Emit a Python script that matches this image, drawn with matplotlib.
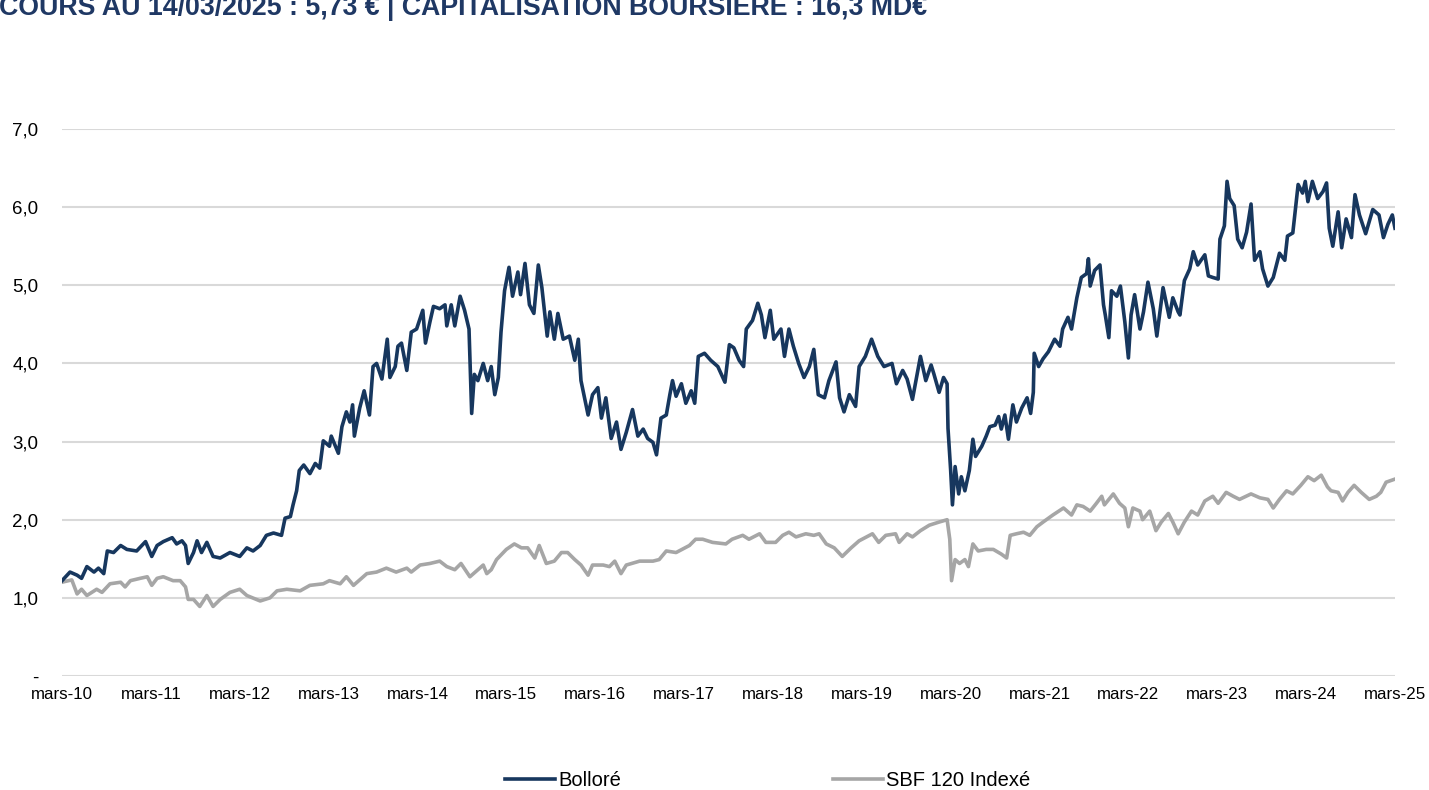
import matplotlib
matplotlib.use("Agg")
import matplotlib.pyplot as plt

# titre / axes
titre = "COURS AU 14/03/2025 : 5,73 € | CAPITALISATION BOURSIÈRE : 16,3 MD€"
mois = ['mars-10', 'mars-11', 'mars-12', 'mars-13', 'mars-14', 'mars-15', 'mars-16', 'mars-17',
        'mars-18', 'mars-19', 'mars-20', 'mars-21', 'mars-22', 'mars-23', 'mars-24', 'mars-25']
y_ticks = [0, 1, 2, 3, 4, 5, 6, 7]
y_labels = ['-', '1,0', '2,0', '3,0', '4,0', '5,0', '6,0', '7,0']

# Bollore (annees depuis mars 2010, cours en euros)
bollore_t = [0.00, 0.09, 0.17, 0.22, 0.28, 0.36, 0.41, 0.47, 0.51, 0.58, 0.66, 0.73, 0.84, 0.94,
             1.01, 1.07, 1.14, 1.24, 1.29, 1.35, 1.39, 1.42, 1.48, 1.52, 1.57, 1.63, 1.70, 1.78,
             1.89, 2.00, 2.08, 2.15, 2.23, 2.30, 2.38, 2.47, 2.51, 2.57, 2.60, 2.64, 2.67, 2.72,
             2.79, 2.85, 2.90, 2.94, 3.01, 3.03, 3.11, 3.15, 3.20, 3.24, 3.27, 3.29, 3.35, 3.40,
             3.46, 3.50, 3.54, 3.60, 3.66, 3.69, 3.75, 3.78, 3.82, 3.88, 3.93, 3.99, 4.06, 4.09,
             4.14, 4.18, 4.25, 4.31, 4.33, 4.38, 4.42, 4.48, 4.53, 4.58,
             4.61, 4.64, 4.68, 4.74, 4.79, 4.83, 4.87, 4.91, 4.94, 4.98, 5.03, 5.07, 5.13, 5.16,
             5.21, 5.26, 5.31, 5.36, 5.40, 5.46, 5.49, 5.54, 5.58, 5.64, 5.71, 5.77, 5.81, 5.84,
             5.92, 5.97, 6.03, 6.07, 6.12, 6.18, 6.24, 6.29, 6.35, 6.42, 6.48, 6.54, 6.59, 6.65,
             6.69, 6.74, 6.80, 6.84, 6.87, 6.91, 6.97, 7.02, 7.08, 7.12, 7.16, 7.23, 7.30, 7.38,
             7.46, 7.51, 7.56, 7.62, 7.67, 7.70, 7.77, 7.83, 7.87, 7.91, 7.97, 8.01, 8.09, 8.13,
             8.18, 8.23, 8.29, 8.35, 8.41, 8.46, 8.51, 8.58, 8.63, 8.71, 8.75, 8.80, 8.86, 8.93,
             8.97, 9.04, 9.11, 9.18, 9.25, 9.34, 9.39, 9.46, 9.51, 9.57, 9.66, 9.72, 9.78, 9.81,
             9.87, 9.92, 9.96, 9.97,
             10.00, 10.02, 10.05, 10.09, 10.12, 10.16, 10.21, 10.25, 10.28, 10.35, 10.40, 10.44,
             10.50, 10.54, 10.57, 10.61, 10.65, 10.70, 10.74, 10.80, 10.86, 10.90, 10.93, 10.94,
             10.99, 11.04, 11.10, 11.17, 11.23, 11.26, 11.32, 11.36, 11.42, 11.47, 11.53, 11.55,
             11.57, 11.62, 11.68, 11.72, 11.74, 11.78, 11.81, 11.87, 11.91, 11.96, 12.00, 12.03,
             12.07, 12.13, 12.17, 12.22, 12.28, 12.32, 12.39, 12.46, 12.50, 12.56, 12.58, 12.63,
             12.69, 12.73, 12.78, 12.86, 12.90, 12.95, 13.01, 13.03, 13.08, 13.11, 13.14, 13.19,
             13.23, 13.28, 13.33, 13.38, 13.42, 13.48, 13.51, 13.57, 13.63, 13.70, 13.76, 13.79,
             13.85, 13.91, 13.96, 13.99, 14.02, 14.07, 14.13, 14.19, 14.23, 14.26, 14.30, 14.36,
             14.40, 14.45, 14.51, 14.55, 14.60, 14.67, 14.75, 14.82, 14.87, 14.92, 14.97, 15.00]
bollore = [1.22, 1.33, 1.29, 1.25, 1.40, 1.33, 1.38, 1.31, 1.60, 1.58, 1.67, 1.62, 1.60, 1.72,
           1.53, 1.67, 1.72, 1.77, 1.69, 1.73, 1.67, 1.44, 1.58, 1.73, 1.58, 1.71, 1.53, 1.51,
           1.58, 1.53, 1.64, 1.60, 1.67, 1.80, 1.83, 1.80, 2.02, 2.04, 2.19, 2.37, 2.63, 2.70,
           2.59, 2.72, 2.66, 3.01, 2.94, 3.07, 2.85, 3.19, 3.38, 3.25, 3.47, 3.07, 3.43, 3.65,
           3.34, 3.96, 4.00, 3.80, 4.31, 3.82, 3.96, 4.22, 4.26, 3.91, 4.40, 4.44, 4.68, 4.26,
           4.53, 4.73, 4.70, 4.75, 4.48, 4.75, 4.48, 4.86, 4.68, 4.44,
           3.36, 3.86, 3.78, 4.00, 3.78, 3.96, 3.60, 3.82, 4.40, 4.93, 5.23, 4.86, 5.17, 4.88,
           5.28, 4.75, 4.64, 5.26, 4.97, 4.35, 4.66, 4.31, 4.64, 4.31, 4.35, 4.04, 4.31, 3.78,
           3.34, 3.60, 3.69, 3.30, 3.56, 3.04, 3.25, 2.90, 3.12, 3.41, 3.07, 3.16, 3.04, 2.99,
           2.83, 3.30, 3.34, 3.60, 3.78, 3.58, 3.74, 3.49, 3.65, 3.49, 4.09, 4.13, 4.04, 3.96,
           3.76, 4.24, 4.20, 4.04, 3.96, 4.44, 4.55, 4.77, 4.62, 4.33, 4.68, 4.31, 4.44, 4.09,
           4.44, 4.22, 4.00, 3.82, 3.96, 4.18, 3.60, 3.56, 3.78, 4.02, 3.56, 3.38, 3.60, 3.45,
           3.96, 4.09, 4.31, 4.09, 3.96, 4.00, 3.74, 3.91, 3.80, 3.54, 4.09, 3.78, 3.98, 3.87,
           3.63, 3.82, 3.74, 3.17,
           2.63, 2.19, 2.68, 2.33, 2.55, 2.37, 2.63, 3.03, 2.81, 2.94, 3.07, 3.19,
           3.21, 3.32, 3.16, 3.34, 3.03, 3.47, 3.25, 3.43, 3.56, 3.36, 3.63, 4.13,
           3.96, 4.06, 4.15, 4.31, 4.22, 4.44, 4.59, 4.44, 4.84, 5.10, 5.15, 5.34,
           4.99, 5.19, 5.26, 4.75, 4.62, 4.33, 4.93, 4.86, 4.99, 4.53, 4.07, 4.62,
           4.88, 4.44, 4.66, 5.04, 4.70, 4.35, 4.97, 4.59, 4.84, 4.66, 4.62, 5.06,
           5.21, 5.43, 5.26, 5.39, 5.12, 5.10, 5.08, 5.59, 5.76, 6.33, 6.11, 6.02,
           5.59, 5.48, 5.68, 6.04, 5.32, 5.43, 5.21, 4.99, 5.10, 5.41, 5.32, 5.63,
           5.67, 6.29, 6.18, 6.33, 6.07, 6.33, 6.11, 6.20, 6.31, 5.73, 5.50, 5.94,
           5.48, 5.85, 5.61, 6.16, 5.90, 5.66, 5.97, 5.90, 5.61, 5.78, 5.90, 5.73]

# SBF 120 indexe sur le cours de depart
sbf_t = [0.00, 0.11, 0.17, 0.22, 0.28, 0.39, 0.45, 0.54, 0.66, 0.71, 0.77, 0.88, 0.96, 1.01,
         1.07, 1.14, 1.25, 1.33, 1.39, 1.42, 1.48, 1.55, 1.63, 1.70, 1.78, 1.89, 2.00, 2.08,
         2.23, 2.34, 2.42, 2.53, 2.68, 2.79, 2.94, 3.01, 3.13, 3.20, 3.28, 3.43, 3.54, 3.65,
         3.76, 3.88, 3.93, 4.03, 4.14, 4.25, 4.33, 4.42, 4.49, 4.59,
         4.68, 4.74, 4.78, 4.83, 4.89, 5.00, 5.09, 5.17, 5.24, 5.32, 5.37, 5.45, 5.54, 5.62,
         5.69, 5.77, 5.84, 5.92, 5.97, 6.09, 6.16, 6.22, 6.29, 6.35, 6.50, 6.65, 6.72, 6.80,
         6.91, 7.06, 7.13, 7.21, 7.32, 7.47, 7.54, 7.66, 7.73, 7.85, 7.92, 8.03, 8.11, 8.18,
         8.26, 8.37, 8.46, 8.52, 8.60, 8.69, 8.78, 8.88, 8.97, 9.12, 9.19, 9.27, 9.38, 9.42,
         9.51, 9.57, 9.66, 9.76, 9.87,
         9.96, 9.99, 10.01, 10.05, 10.10, 10.16, 10.20, 10.25, 10.31, 10.40, 10.48, 10.57,
         10.63, 10.67, 10.74, 10.82, 10.89, 10.97, 11.04, 11.15, 11.27, 11.36, 11.42, 11.49,
         11.57, 11.64, 11.70, 11.73, 11.83, 11.90, 11.96, 12.00, 12.05, 12.13, 12.16, 12.24,
         12.31, 12.37, 12.45, 12.50, 12.56, 12.63, 12.71, 12.78, 12.86, 12.95, 13.01, 13.10,
         13.18, 13.25, 13.38, 13.48, 13.57, 13.63, 13.70, 13.78, 13.85, 13.94, 14.02, 14.09,
         14.17, 14.24, 14.28, 14.36, 14.41, 14.47, 14.54, 14.62, 14.71, 14.79, 14.84, 14.90,
         15.00]
sbf = [1.20, 1.23, 1.05, 1.11, 1.03, 1.11, 1.07, 1.18, 1.20, 1.14, 1.22, 1.25, 1.27, 1.16,
       1.25, 1.27, 1.22, 1.22, 1.14, 0.98, 0.98, 0.89, 1.03, 0.89, 0.98, 1.07, 1.11, 1.03,
       0.96, 1.00, 1.09, 1.11, 1.09, 1.16, 1.18, 1.22, 1.18, 1.27, 1.16, 1.31, 1.33, 1.38,
       1.33, 1.38, 1.33, 1.42, 1.44, 1.47, 1.40, 1.36, 1.44, 1.27,
       1.36, 1.42, 1.31, 1.36, 1.49, 1.62, 1.69, 1.64, 1.64, 1.51, 1.67, 1.44, 1.47, 1.58,
       1.58, 1.49, 1.42, 1.29, 1.42, 1.42, 1.40, 1.47, 1.31, 1.42, 1.47, 1.47, 1.49, 1.60,
       1.58, 1.67, 1.75, 1.75, 1.71, 1.69, 1.75, 1.80, 1.75, 1.82, 1.71, 1.71, 1.80, 1.84,
       1.78, 1.82, 1.80, 1.82, 1.69, 1.64, 1.53, 1.64, 1.73, 1.82, 1.71, 1.80, 1.82, 1.71,
       1.82, 1.78, 1.86, 1.93, 1.97,
       2.00, 1.75, 1.22, 1.49, 1.44, 1.49, 1.40, 1.69, 1.60, 1.62, 1.62, 1.56,
       1.51, 1.80, 1.82, 1.84, 1.80, 1.91, 1.97, 2.06, 2.15, 2.06, 2.19, 2.17,
       2.11, 2.21, 2.30, 2.19, 2.33, 2.21, 2.15, 1.91, 2.15, 2.11, 2.00, 2.11,
       1.86, 1.97, 2.08, 1.97, 1.82, 1.97, 2.11, 2.06, 2.24, 2.30, 2.21, 2.35,
       2.30, 2.26, 2.33, 2.28, 2.26, 2.15, 2.26, 2.37, 2.33, 2.44, 2.55, 2.50,
       2.57, 2.42, 2.37, 2.35, 2.24, 2.35, 2.44, 2.35, 2.26, 2.30, 2.35, 2.48,
       2.52]

bleu = '#17375e'
gris = '#a6a6a6'

plt.rcParams['font.family'] = ['Liberation Sans', 'DejaVu Sans']

fig = plt.figure(figsize=(14.29, 7.9), dpi=100)
ax = fig.add_axes([62/1429, 114/790, 1333/1429, 547/790])

l_sbf, = ax.plot(sbf_t, sbf, color=gris, lw=2.6, solid_joinstyle='round')
l_bol, = ax.plot(bollore_t, bollore, color=bleu, lw=2.6, solid_joinstyle='round')

ax.set_xlim(0, 15)
ax.set_ylim(0, 7)
ax.set_xticks(range(len(mois)))
ax.set_xticklabels(mois, fontsize=12.2)
ax.set_yticks(y_ticks)
ax.set_yticklabels(y_labels, fontsize=13.5)
ax.tick_params(length=0)
ax.tick_params(axis='y', pad=17)
ax.tick_params(axis='x', pad=8)
ax.yaxis.grid(True, color='#d9d9d9', lw=1.5)
ax.set_axisbelow(True)
for s in ['top', 'right', 'left', 'bottom']:
    ax.spines[s].set_visible(False)

fig.text(-0.001, 1 - 15/790, titre, fontsize=19.3, fontweight='bold', color='#1f3864',
         va='baseline', ha='left')

fig.legend([l_bol, l_sbf], ['Bolloré', 'SBF 120 Indexé'], loc='center left',
           bbox_to_anchor=(505/1429, 1 - 781/790), ncol=2, frameon=False, fontsize=14.5,
           handlelength=2.5, handletextpad=0.15, columnspacing=10.5, borderpad=0, borderaxespad=0)

fig.savefig('out.png', dpi=100)
